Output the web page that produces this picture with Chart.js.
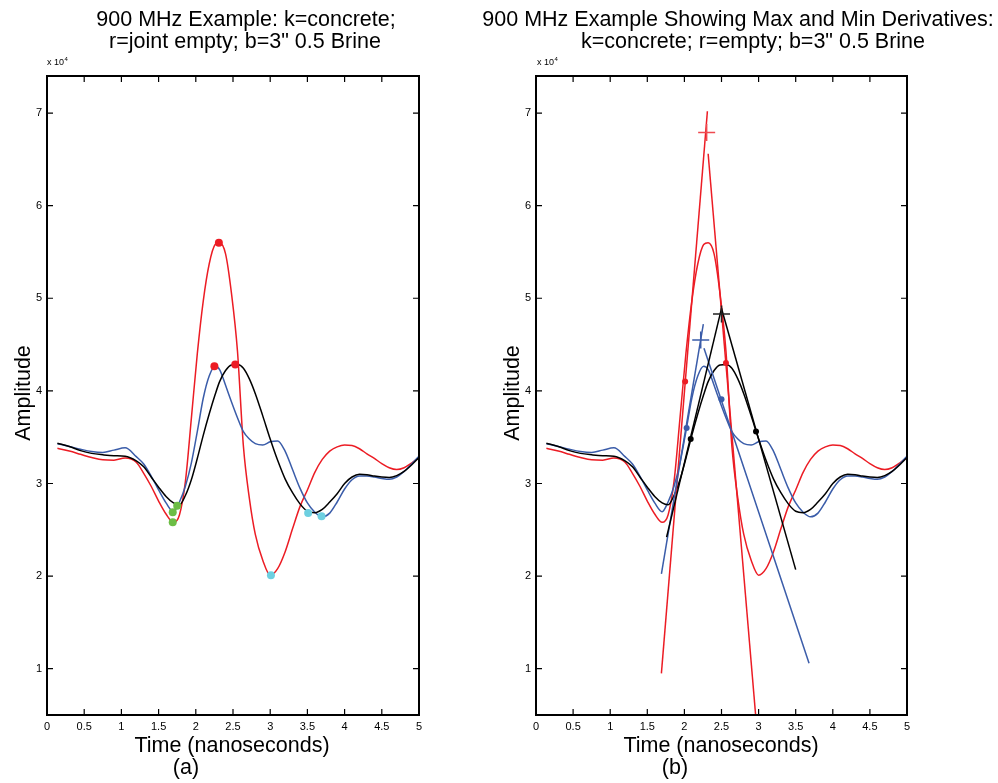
<!DOCTYPE html>
<html>
<head>
<meta charset="utf-8">
<script src="https://cdn.jsdelivr.net/npm/chart.js@4.4.1/dist/chart.umd.min.js"></script>
<style>
  body { margin: 0; background: #fff; }
  #wrap { position: relative; width: 998px; height: 783px; }
  canvas { position: absolute; top: 0; }
</style>
</head>
<body>
<div id="wrap">
  <canvas id="chartA" width="499" height="783" style="left:0"></canvas>
  <canvas id="chartB" width="568" height="783" style="left:430px"></canvas>
</div>
<script>
// time axis (ns) shared by the three waveforms
const timeNs = [0.14, 0.3, 0.45, 0.6, 0.75, 0.9, 1.05, 1.2, 1.3, 1.4, 1.5, 1.6, 1.7, 1.78, 1.86, 1.94,
  2.02, 2.1, 2.18, 2.26, 2.32, 2.4, 2.48, 2.56, 2.64, 2.72, 2.8, 2.9, 3.0, 3.1, 3.2, 3.3, 3.4, 3.5,
  3.6, 3.7, 3.8, 3.9, 4.0, 4.1, 4.2, 4.3, 4.4, 4.5, 4.6, 4.7, 4.8, 4.9, 5.0];

// r = joint empty
const redAmp = [33800, 33500, 33150, 32800, 32550, 32520, 32750, 32300, 31100, 29700, 28100, 26700,
  25800, 26600, 30200, 37000, 44000, 49700, 53700, 55800, 56000, 54800, 50500, 44300, 34000, 28400,
  24500, 21700, 20100, 20800, 22600, 25100, 27500, 29300, 31200, 32600, 33500, 33950, 34150, 34100,
  33750, 33200, 32700, 32150, 31700, 31500, 31700, 32200, 32800];
// b = 3" 0.5 brine
const blueAmp = [34300, 34000, 33700, 33450, 33350, 33600, 33850, 32900, 32100, 30800, 29300, 27900,
  26950, 28000, 29700, 32200, 35600, 39200, 41600, 42650, 42300, 40600, 38800, 37100, 35600, 34800,
  34300, 34150, 34500, 34600, 33500, 31500, 29500, 27900, 26900, 26400, 26800, 28000, 29400, 30400,
  30800, 30800, 30700, 30550, 30450, 30700, 31300, 32100, 32950];
// k = concrete
const blackAmp = [34350, 34000, 33550, 33250, 33100, 33000, 32950, 32450, 31800, 30700, 29600, 28600,
  27900, 27700, 28700, 30400, 32700, 35200, 37500, 39600, 41000, 42200, 42800, 42850, 42450, 41300,
  39700, 37300, 34800, 32500, 30500, 29000, 27800, 27000, 26850, 27200, 28000, 28900, 30000, 30700,
  31000, 30950, 30800, 30700, 30650, 30850, 31300, 32000, 32800];

// picked extrema (left plot)
const minT = [1.69, 1.69, 1.75], minV = [25800, 26900, 27600];
const maxT = [2.31, 2.25, 2.53], maxV = [56000, 42650, 42850];
const min2T = [3.01, 3.51, 3.69], min2V = [20100, 26800, 26450];

// derivative tangent lines (right plot)
const redRiseT = [1.69, 2.31], redRiseV = [9500, 70200];
const redFallT = [2.32, 2.96], redFallV = [65600, 5000];
const blueRiseT = [1.69, 2.255], blueRiseV = [20250, 47200];
const blueFallT = [2.264, 3.68], blueFallV = [44600, 10600];
const blackRiseT = [1.76, 2.5], blackRiseV = [24200, 48900];
const blackFallT = [2.5, 3.5], blackFallV = [48900, 20700];
// tangent points
const redDotT = [2.01, 2.56], redDotV = [41000, 43000];
const blueDotT = [2.03, 2.5], blueDotV = [36000, 39100];
const blackDotT = [2.085, 2.965], blackDotV = [34800, 35600];
// line intersections
const redCrossT = [2.3], redCrossV = [67900];
const blueCrossT = [2.22], blueCrossV = [45500];
const blackCrossT = [2.5], blackCrossV = [48300];

const xTicks = [0, 0.5, 1, 1.5, 2, 2.5, 3, 3.5, 4, 4.5, 5];
const yTicks = [10000, 20000, 30000, 40000, 50000, 60000, 70000];

const RED = "#ec1c24", BLUE = "#3a5ca9", BLACK = "#000000", GREEN = "#6cbd45", CYAN = "#6dcfe0";
const FONT = "'Liberation Sans', Arial, Helvetica, sans-serif";

const pts = (t, v) => t.map((x, i) => ({ x: x, y: v[i] }));

function curve(t, v, color) {
  return { data: pts(t, v), showLine: true, borderColor: color, borderWidth: 1.5,
    pointRadius: 0, cubicInterpolationMode: "monotone", tension: 0.4 };
}
function segment(t, v, color) {
  return { data: pts(t, v), showLine: true, borderColor: color, borderWidth: 1.5,
    pointRadius: 0, tension: 0 };
}
function dots(t, v, color, r) {
  return { data: pts(t, v), showLine: false, pointRadius: r, pointBackgroundColor: color,
    pointBorderColor: color, pointBorderWidth: 0 };
}
function crosses(t, v, color) {
  return { data: pts(t, v), showLine: false, pointStyle: "cross", pointRadius: 8.5,
    pointBorderColor: color, pointBorderWidth: 1.5 };
}

// box with inward ticks on all four sides
const matlabBox = {
  id: "matlabBox",
  afterDatasetsDraw(chart) {
    const { ctx, chartArea: a, scales: { x, y } } = chart;
    ctx.save();
    ctx.strokeStyle = "#000";
    ctx.lineWidth = 1.2;
    ctx.beginPath();
    x.ticks.forEach((t) => {
      const px = x.getPixelForValue(t.value);
      ctx.moveTo(px, a.bottom); ctx.lineTo(px, a.bottom - 6);
      ctx.moveTo(px, a.top); ctx.lineTo(px, a.top + 6);
    });
    y.ticks.forEach((t) => {
      const py = y.getPixelForValue(t.value);
      ctx.moveTo(a.left, py); ctx.lineTo(a.left + 6, py);
      ctx.moveTo(a.right, py); ctx.lineTo(a.right - 6, py);
    });
    ctx.stroke();
    ctx.lineWidth = 2;
    ctx.strokeRect(a.left, a.top, a.right - a.left, a.bottom - a.top);
    ctx.restore();
  },
};

// titles, axis labels and the x10^4 multiplier
const matlabText = {
  id: "matlabText",
  afterDraw(chart, args, o) {
    const ctx = chart.ctx;
    ctx.save();
    ctx.fillStyle = "#000";
    ctx.textBaseline = "middle";
    ctx.textAlign = "center";
    ctx.font = "21.5px " + FONT;
    o.title.forEach((l) => ctx.fillText(l[0], l[1], l[2]));
    ctx.fillText(o.xlabel[0], o.xlabel[1], o.xlabel[2]);
    ctx.fillText(o.tag[0], o.tag[1], o.tag[2]);
    ctx.save();
    ctx.translate(o.ylabel[1], o.ylabel[2]);
    ctx.rotate(-Math.PI / 2);
    ctx.fillText(o.ylabel[0], 0, 0);
    ctx.restore();
    ctx.textAlign = "left";
    ctx.font = "9px " + FONT;
    ctx.fillText("x 10", o.expo[0], o.expo[1]);
    const w = ctx.measureText("x 10").width;
    ctx.font = "6px " + FONT;
    ctx.fillText("4", o.expo[0] + w + 0.5, o.expo[1] - 4);
    ctx.restore();
  },
};

function makeChart(id, datasets, pad, yWidth, text) {
  return new Chart(document.getElementById(id).getContext("2d"), {
    type: "scatter",
    data: { datasets: datasets },
    plugins: [matlabBox, matlabText],
    options: {
      responsive: false,
      animation: false,
      events: [],
      layout: { padding: pad },
      plugins: { legend: { display: false }, tooltip: { enabled: false }, matlabText: text },
      scales: {
        x: {
          type: "linear", min: 0, max: 5,
          afterFit: (s) => { s.height = 20; },
          afterBuildTicks: (s) => { s.ticks = xTicks.map((v) => ({ value: v })); },
          grid: { display: false, drawTicks: false },
          border: { display: false },
          ticks: { padding: 5, autoSkip: false, maxRotation: 0, color: "#000",
            font: { family: FONT, size: 11 }, callback: (v) => String(v) },
        },
        y: {
          type: "linear", min: 5000, max: 74000,
          afterFit: (s) => { s.width = yWidth; },
          afterBuildTicks: (s) => { s.ticks = yTicks.map((v) => ({ value: v })); },
          grid: { display: false, drawTicks: false },
          border: { display: false },
          ticks: { padding: 5, autoSkip: false, color: "#000",
            font: { family: FONT, size: 11 }, callback: (v) => String(v / 10000) },
        },
      },
    },
  });
}

makeChart("chartA", [
  dots(minT, minV, GREEN, 4),
  dots(maxT, maxV, RED, 4),
  dots(min2T, min2V, CYAN, 4),
  curve(timeNs, blackAmp, BLACK),
  curve(timeNs, blueAmp, BLUE),
  curve(timeNs, redAmp, RED),
], { left: 10, right: 80, top: 76, bottom: 48 }, 37, {
  title: [["900 MHz Example: k=concrete;", 246, 20], ["r=joint empty; b=3\" 0.5 Brine", 245, 42]],
  xlabel: ["Time (nanoseconds)", 232, 746],
  tag: ["(a)", 186, 768],
  ylabel: ["Amplitude", 24, 393],
  expo: [47, 63],
});

// canvas B starts at page x = 430
makeChart("chartB", [
  crosses(redCrossT, redCrossV, "#ef4a50"),
  crosses(blueCrossT, blueCrossV, BLUE),
  crosses(blackCrossT, blackCrossV, "#222"),
  dots(redDotT, redDotV, RED, 3),
  dots(blueDotT, blueDotV, BLUE, 3),
  dots(blackDotT, blackDotV, BLACK, 3),
  segment(blackRiseT, blackRiseV, BLACK),
  segment(blackFallT, blackFallV, BLACK),
  segment(blueRiseT, blueRiseV, BLUE),
  segment(blueFallT, blueFallV, BLUE),
  segment(redRiseT, redRiseV, RED),
  segment(redFallT, redFallV, RED),
  curve(timeNs, blackAmp, BLACK),
  curve(timeNs, blueAmp, BLUE),
  curve(timeNs, redAmp, RED),
], { left: 74, right: 91, top: 76, bottom: 48 }, 32, {
  title: [["900 MHz Example Showing Max and Min Derivatives:", 308, 20],
    ["k=concrete; r=empty; b=3\" 0.5 Brine", 323, 42]],
  xlabel: ["Time (nanoseconds)", 291, 746],
  tag: ["(b)", 245, 768],
  ylabel: ["Amplitude", 83, 393],
  expo: [107, 63],
});
</script>
</body>
</html>
